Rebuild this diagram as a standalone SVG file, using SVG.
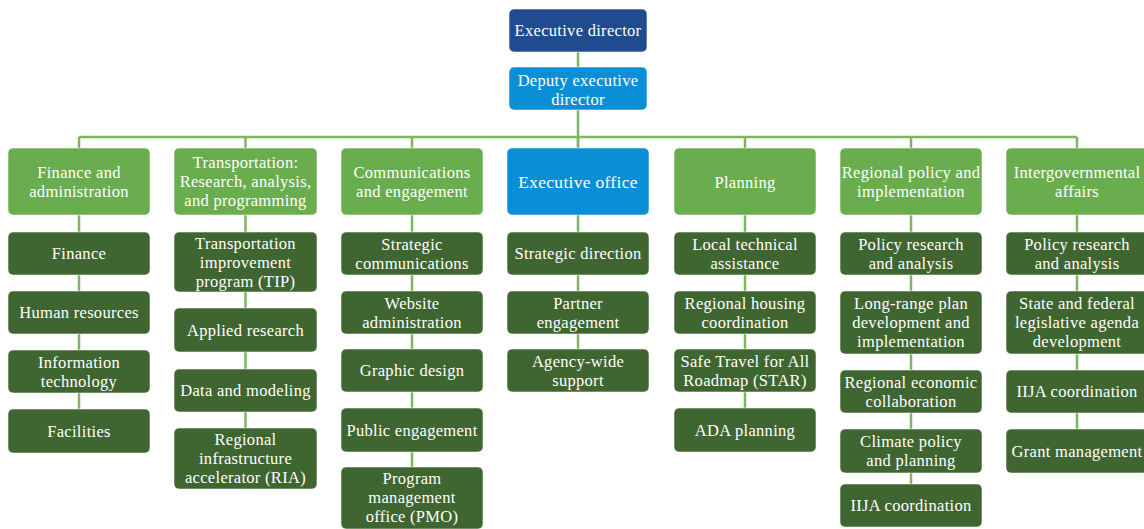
<svg xmlns="http://www.w3.org/2000/svg" width="1144" height="529" viewBox="0 0 1144 529">
<style>
.b rect{stroke:#ffffff;stroke-opacity:0.55;stroke-width:1}
.h rect{fill:#6aad4f}
.c rect{fill:#3f6531}
.blue rect{fill:#0a8fd6}
.navy rect{fill:#1f4c8f}
text{font-family:"Liberation Serif","Times New Roman",serif;font-size:16.5px;letter-spacing:0.3px;fill:#ffffff;text-anchor:middle}
.conn line{stroke:#7cb760;stroke-width:2.5}
</style>
<rect width="1144" height="529" fill="#ffffff"/>
<g class="conn">
<line x1="578" y1="52" x2="578" y2="148"/>
<line x1="79" y1="137" x2="1077" y2="137"/>
<line x1="79" y1="137" x2="79" y2="409"/>
<line x1="245.5" y1="137" x2="245.5" y2="428"/>
<line x1="412" y1="137" x2="412" y2="467"/>
<line x1="578" y1="137" x2="578" y2="349"/>
<line x1="745" y1="137" x2="745" y2="408"/>
<line x1="911" y1="137" x2="911" y2="484"/>
<line x1="1077" y1="137" x2="1077" y2="429"/>
</g>
<g id="executive-director" class="b navy"><rect x="509" y="9" width="138" height="43" rx="5"/><text x="578" y="36">Executive director</text></g>
<g id="deputy-executive-director" class="b blue"><rect x="509" y="67" width="138" height="43" rx="5"/><text x="578" y="85.5">Deputy executive</text><text x="578" y="104.5">director</text></g>

<g id="finance-and-administration" class="b h"><rect x="8" y="148" width="142" height="67" rx="5"/><text x="79" y="177.5">Finance and</text><text x="79" y="196.5">administration</text></g>
<g id="finance" class="b c"><rect x="8" y="232" width="142" height="43" rx="5"/><text x="79" y="259">Finance</text></g>
<g id="human-resources" class="b c"><rect x="8" y="291" width="142" height="43" rx="5"/><text x="79" y="318">Human resources</text></g>
<g id="information-technology" class="b c"><rect x="8" y="350" width="142" height="43" rx="5"/><text x="79" y="367.5">Information</text><text x="79" y="386.5">technology</text></g>
<g id="facilities" class="b c"><rect x="8" y="409" width="142" height="44" rx="5"/><text x="79" y="436.5">Facilities</text></g>

<g id="transportation" class="b h"><rect x="174" y="148" width="143" height="67" rx="5"/><text x="245.5" y="168">Transportation:</text><text x="245.5" y="187">Research, analysis,</text><text x="245.5" y="206">and programming</text></g>
<g id="tip" class="b c"><rect x="174" y="232" width="143" height="60" rx="5"/><text x="245.5" y="248.5">Transportation</text><text x="245.5" y="267.5">improvement</text><text x="245.5" y="286.5">program (TIP)</text></g>
<g id="applied-research" class="b c"><rect x="174" y="308" width="143" height="44" rx="5"/><text x="245.5" y="335.5">Applied research</text></g>
<g id="data-and-modeling" class="b c"><rect x="174" y="369" width="143" height="43" rx="5"/><text x="245.5" y="396">Data and modeling</text></g>
<g id="ria" class="b c"><rect x="174" y="428" width="143" height="61" rx="5"/><text x="245.5" y="445">Regional</text><text x="245.5" y="464">infrastructure</text><text x="245.5" y="483">accelerator (RIA)</text></g>

<g id="communications-and-engagement" class="b h"><rect x="341" y="148" width="142" height="67" rx="5"/><text x="412" y="177.5">Communications</text><text x="412" y="196.5">and engagement</text></g>
<g id="strategic-communications" class="b c"><rect x="341" y="232" width="142" height="43" rx="5"/><text x="412" y="249.5">Strategic</text><text x="412" y="268.5">communications</text></g>
<g id="website-administration" class="b c"><rect x="341" y="291" width="142" height="43" rx="5"/><text x="412" y="308.5">Website</text><text x="412" y="327.5">administration</text></g>
<g id="graphic-design" class="b c"><rect x="341" y="349" width="142" height="43" rx="5"/><text x="412" y="376">Graphic design</text></g>
<g id="public-engagement" class="b c"><rect x="341" y="408" width="142" height="44" rx="5"/><text x="412" y="435.5">Public engagement</text></g>
<g id="pmo" class="b c"><rect x="341" y="467" width="142" height="62" rx="5"/><text x="412" y="484">Program</text><text x="412" y="503">management</text><text x="412" y="522">office (PMO)</text></g>

<g id="executive-office" class="b blue"><rect x="507" y="148" width="142" height="67" rx="5"/><text x="578" y="187.5" style="font-size:17.5px">Executive office</text></g>
<g id="strategic-direction" class="b c"><rect x="507" y="232" width="142" height="43" rx="5"/><text x="578" y="259">Strategic direction</text></g>
<g id="partner-engagement" class="b c"><rect x="507" y="291" width="142" height="43" rx="5"/><text x="578" y="308.5">Partner</text><text x="578" y="327.5">engagement</text></g>
<g id="agency-wide-support" class="b c"><rect x="507" y="349" width="142" height="43" rx="5"/><text x="578" y="366.5">Agency-wide</text><text x="578" y="385.5">support</text></g>

<g id="planning" class="b h"><rect x="674" y="148" width="142" height="67" rx="5"/><text x="745" y="187.5">Planning</text></g>
<g id="local-technical-assistance" class="b c"><rect x="674" y="232" width="142" height="43" rx="5"/><text x="745" y="249.5">Local technical</text><text x="745" y="268.5">assistance</text></g>
<g id="regional-housing-coordination" class="b c"><rect x="674" y="291" width="142" height="43" rx="5"/><text x="745" y="308.5">Regional housing</text><text x="745" y="327.5">coordination</text></g>
<g id="star" class="b c"><rect x="674" y="349" width="142" height="43" rx="5"/><text x="745" y="366.5">Safe Travel for All</text><text x="745" y="385.5">Roadmap (STAR)</text></g>
<g id="ada-planning" class="b c"><rect x="674" y="408" width="142" height="44" rx="5"/><text x="745" y="435.5">ADA planning</text></g>

<g id="regional-policy-and-implementation" class="b h"><rect x="840" y="148" width="142" height="67" rx="5"/><text x="911" y="177.5">Regional policy and</text><text x="911" y="196.5">implementation</text></g>
<g id="rp-policy-research" class="b c"><rect x="840" y="232" width="142" height="43" rx="5"/><text x="911" y="249.5">Policy research</text><text x="911" y="268.5">and analysis</text></g>
<g id="long-range-plan" class="b c"><rect x="840" y="291" width="142" height="63" rx="5"/><text x="911" y="309">Long-range plan</text><text x="911" y="328">development and</text><text x="911" y="347">implementation</text></g>
<g id="regional-economic-collaboration" class="b c"><rect x="840" y="370" width="142" height="43" rx="5"/><text x="911" y="387.5">Regional economic</text><text x="911" y="406.5">collaboration</text></g>
<g id="climate-policy" class="b c"><rect x="840" y="429" width="142" height="44" rx="5"/><text x="911" y="447">Climate policy</text><text x="911" y="466">and planning</text></g>
<g id="rp-iija-coordination" class="b c"><rect x="840" y="484" width="142" height="43" rx="5"/><text x="911" y="511">IIJA coordination</text></g>

<g id="intergovernmental-affairs" class="b h"><rect x="1006" y="148" width="142" height="67" rx="5"/><text x="1077" y="177.5">Intergovernmental</text><text x="1077" y="196.5">affairs</text></g>
<g id="ig-policy-research" class="b c"><rect x="1006" y="232" width="142" height="43" rx="5"/><text x="1077" y="249.5">Policy research</text><text x="1077" y="268.5">and analysis</text></g>
<g id="legislative-agenda" class="b c"><rect x="1006" y="291" width="142" height="63" rx="5"/><text x="1077" y="309">State and federal</text><text x="1077" y="328">legislative agenda</text><text x="1077" y="347">development</text></g>
<g id="ig-iija-coordination" class="b c"><rect x="1006" y="370" width="142" height="43" rx="5"/><text x="1077" y="397">IIJA coordination</text></g>
<g id="grant-management" class="b c"><rect x="1006" y="429" width="142" height="44" rx="5"/><text x="1077" y="456.5">Grant management</text></g>
</svg>
